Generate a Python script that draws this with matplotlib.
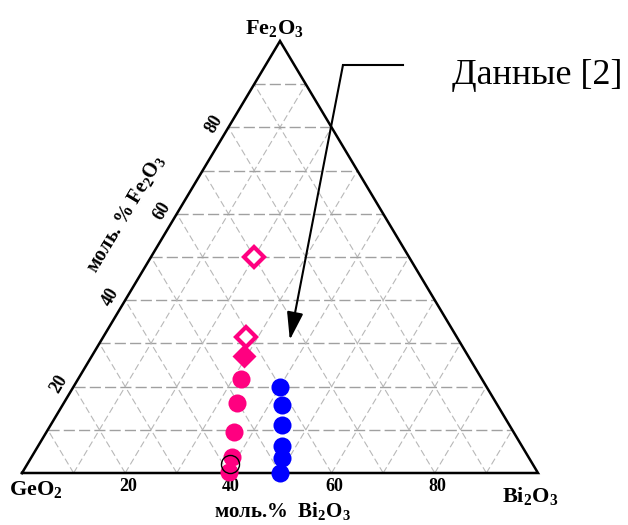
import numpy as np
import matplotlib.pyplot as plt

# compositions, mol.% (Bi2O3, Fe2O3); GeO2 is the rest
pink_bi = [31.5, 33.6, 36.3, 38.8, 40.0]
pink_fe = [21.8, 16.2, 9.5, 3.7, 0.2]
ring_bi = [39.3]
ring_fe = [2.1]
dia_bi = [29.5]
dia_fe = [27.1]
odia_bi = [27.7, 20.0]
odia_fe = [31.5, 50.0]
blue_bi = [40.0, 42.5, 44.8, 47.2, 48.7, 50.0]
blue_fe = [19.9, 15.7, 11.1, 6.3, 3.5, 0.0]
ticks = [20, 40, 60, 80]

PINK = '#ff0080'
serif = ['Liberation Serif', 'DejaVu Serif']
plt.rcParams['mathtext.fontset'] = 'custom'
plt.rcParams['mathtext.rm'] = 'Liberation Serif:bold'


def tern(bi, fe):
    bi = np.asarray(bi) / 100.0
    fe = np.asarray(fe) / 100.0
    return bi + fe / 2.0, fe


fig = plt.figure(figsize=(6.28, 5.25), dpi=100)
ax = fig.add_axes([22 / 628, 52 / 525, 516 / 628, 432 / 525])
ax.set_xlim(0, 1)
ax.set_ylim(0, 1)
ax.axis('off')

# grid
for k in range(1, 10):
    v = k / 10.0
    # constant Fe2O3
    x1, y1 = tern(0, v * 100)
    x2, y2 = tern((1 - v) * 100, v * 100)
    ax.plot([x1, x2], [y1, y2], color='#a0a0a0', lw=1.0, dashes=(8, 3), zorder=1)
    # constant Bi2O3
    x1, y1 = tern(v * 100, 0)
    x2, y2 = tern(v * 100, (1 - v) * 100)
    ax.plot([x1, x2], [y1, y2], color='#b8b8b8', lw=0.8, dashes=(6, 3), zorder=1)
    # constant GeO2
    x1, y1 = tern((1 - v) * 100, 0)
    x2, y2 = tern(0, (1 - v) * 100)
    ax.plot([x1, x2], [y1, y2], color='#b8b8b8', lw=0.8, dashes=(6, 3), zorder=1)

# triangle
tx, ty = tern([0, 100, 0, 0], [0, 0, 100, 0])
ax.plot(tx, ty, color='black', lw=1.8, zorder=2, clip_on=False, solid_joinstyle='miter')

# ticks
for t in ticks:
    x, y = tern(t, 0)
    ax.text(x + 0.005, y - 0.032, str(t), ha='center', va='center', fontsize=13,
            fontweight='bold', family=serif, clip_on=False)
    x, y = tern(0, t)
    ax.text(x - 0.028, y + 0.007, str(t), ha='center', va='center', fontsize=13,
            fontweight='bold', family=serif, rotation=59, clip_on=False)

# vertex / axis labels
ax.text(0.49, 1.028, r'Fe$_\mathregular{2}$O$_\mathregular{3}$', ha='center', va='center',
        fontsize=16, fontweight='bold', family=serif, clip_on=False)
ax.text(0.027, -0.04, r'GeO$_\mathregular{2}$', ha='center', va='center',
        fontsize=16, fontweight='bold', family=serif, clip_on=False)
ax.text(0.984, -0.055, r'Bi$_\mathregular{2}$O$_\mathregular{3}$', ha='center', va='center',
        fontsize=16, fontweight='bold', family=serif, clip_on=False)
ax.text(0.504, -0.09, r'моль.%  Bi$_\mathregular{2}$O$_\mathregular{3}$', ha='center', va='center',
        fontsize=15, fontweight='bold', family=serif, clip_on=False)
ax.text(0.203, 0.60, r'моль. % Fe$_\mathregular{2}$O$_\mathregular{3}$', ha='center', va='center',
        fontsize=14.5, fontweight='bold', family=serif, rotation=59, clip_on=False)

# data
x, y = tern(blue_bi, blue_fe)
ax.plot(x, y, 'o', color='#0000ff', ms=13, mec='none', zorder=5, clip_on=False)
x, y = tern(pink_bi, pink_fe)
ax.plot(x, y, 'o', color=PINK, ms=13, mec='none', zorder=5, clip_on=False)
x, y = tern(ring_bi, ring_fe)
ax.plot(x, y, 'o', mfc='none', mec='black', mew=1.0, ms=13, zorder=6, clip_on=False)
x, y = tern(dia_bi, dia_fe)
ax.plot(x, y, 'D', color=PINK, ms=12.5, mec='none', zorder=5)
x, y = tern(odia_bi, odia_fe)
ax.plot(x, y, 'D', mfc='white', mec=PINK, mew=3, ms=10.5, zorder=5)

# callout
ax.plot([0.738, 0.622], [0.944, 0.944], color='black', lw=1.5, clip_on=False)
ax.annotate('', xy=(0.519, 0.308), xytext=(0.622, 0.944),
            arrowprops=dict(arrowstyle='-|>,head_length=1.7,head_width=0.5',
                            color='black', lw=1.5, shrinkA=0, shrinkB=0))
ax.text(0.833, 0.921, 'Данные [2]', ha='left', va='center', fontsize=26,
        family=serif, clip_on=False)

fig.savefig('out.png', dpi=100)
